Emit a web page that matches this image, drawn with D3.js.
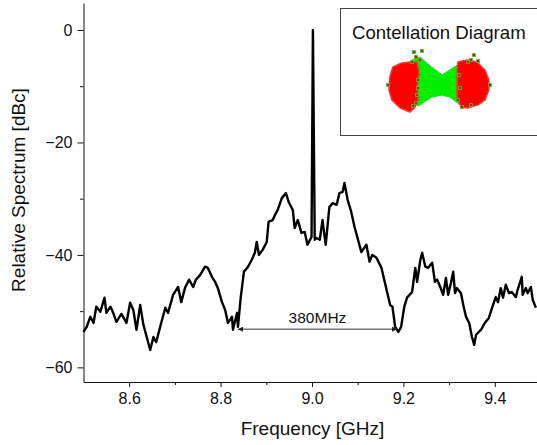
<!DOCTYPE html>
<html>
<head>
<meta charset="utf-8">
<script src="https://cdn.jsdelivr.net/npm/d3@7"></script>
<style>
  body { margin: 0; background: #fff; }
  svg { display: block; font-family: "Liberation Sans", Arial, sans-serif; }
</style>
</head>
<body>
<svg width="537" height="445"></svg>
<script>
// spectrum trace
const freqGHz = [8.500, 8.507, 8.515, 8.522, 8.528, 8.537, 8.546, 8.550, 8.559, 8.565,
  8.572, 8.583, 8.594, 8.602, 8.609, 8.616, 8.624, 8.631, 8.637, 8.646,
  8.653, 8.659, 8.670, 8.679, 8.685, 8.696, 8.707, 8.714, 8.722, 8.731,
  8.740, 8.746, 8.755, 8.766, 8.772, 8.781, 8.788, 8.794, 8.803, 8.810,
  8.816, 8.825, 8.827, 8.836, 8.838, 8.844, 8.851, 8.860, 8.868, 8.875,
  8.879, 8.884, 8.892, 8.901, 8.905, 8.914, 8.919, 8.925, 8.934, 8.943,
  8.949, 8.958, 8.962, 8.969, 8.977, 8.984, 8.990, 8.999, 9.002, 9.006,
  9.010, 9.017, 9.023, 9.030, 9.038, 9.045, 9.054, 9.060, 9.067, 9.071,
  9.078, 9.086, 9.093, 9.099, 9.108, 9.119, 9.126, 9.132, 9.141, 9.152,
  9.158, 9.165, 9.171, 9.176, 9.182, 9.189, 9.195, 9.202, 9.208, 9.219,
  9.226, 9.230, 9.237, 9.241, 9.248, 9.254, 9.263, 9.269, 9.274, 9.283,
  9.287, 9.293, 9.298, 9.304, 9.309, 9.313, 9.317, 9.326, 9.331, 9.337,
  9.344, 9.350, 9.355, 9.359, 9.370, 9.378, 9.387, 9.394, 9.402, 9.407,
  9.413, 9.418, 9.424, 9.431, 9.437, 9.446, 9.450, 9.459, 9.461, 9.468,
  9.472, 9.479, 9.483, 9.490];

const levelDBc = [-53.7, -52.8, -51.0, -52.1, -49.2, -50.1, -47.6, -50.3, -49.2, -50.3,
  -51.9, -50.5, -52.1, -48.5, -49.8, -53.3, -48.9, -52.4, -54.2, -56.9,
  -54.6, -55.5, -52.1, -49.4, -50.3, -47.1, -45.7, -48.4, -45.9, -44.4,
  -45.7, -44.4, -43.6, -42.1, -42.3, -43.9, -44.8, -45.9, -48.4, -49.8,
  -52.1, -51.0, -53.3, -50.3, -52.8, -47.6, -43.0, -42.1, -40.9, -39.6,
  -37.7, -40.0, -39.1, -37.7, -34.1, -33.8, -32.9, -32.0, -29.9, -29.0,
  -30.6, -32.0, -35.2, -33.8, -36.1, -35.9, -38.2, -36.8, 0.0, -37.3,
  -37.0, -37.3, -33.8, -38.2, -31.5, -30.8, -31.1, -29.0, -28.8, -27.2,
  -30.2, -32.4, -35.0, -36.8, -39.5, -38.2, -41.2, -40.0, -40.5, -42.3,
  -44.4, -46.8, -48.9, -49.2, -52.8, -53.7, -52.8, -49.2, -47.6, -46.6,
  -42.3, -44.8, -40.9, -39.6, -42.1, -42.3, -41.4, -44.8, -44.4, -46.2,
  -47.1, -44.1, -47.1, -45.0, -43.0, -46.8, -45.9, -46.8, -48.9, -51.0,
  -52.1, -54.6, -56.0, -54.2, -53.3, -52.1, -51.2, -49.4, -47.5, -48.4,
  -45.9, -47.6, -45.3, -46.8, -46.6, -47.5, -46.2, -43.9, -47.1, -45.9,
  -46.8, -45.7, -48.0, -49.4];

const xTicks = [8.6, 8.8, 9.0, 9.2, 9.4];
const xMinorTicks = [8.7, 8.9, 9.1, 9.3];
const yTicks = [-60, -40, -20, 0];
const yMinorTicks = [-50, -30, -10];

// 380 MHz bandwidth marker
const bandFrom = 8.838, bandTo = 9.186, bandLevel = -53.2, bandLabel = "380MHz";

// constellation inset, outlines in I/Q units
const leftCluster = [[-1.00, 0.70], [-1.30, 0.66], [-1.57, 0.53], [-1.67, 0.20], [-1.70, -0.23],
  [-1.60, -0.57], [-1.33, -0.83], [-1.00, -0.97], [-0.83, -0.80], [-0.73, -0.57],
  [-0.77, -0.13], [-0.70, 0.33], [-0.77, 0.70]];
const rightCluster = [[0.60, 0.70], [0.90, 0.77], [1.23, 0.70], [1.50, 0.43], [1.63, 0.10],
  [1.63, -0.23], [1.50, -0.57], [1.27, -0.73], [0.93, -0.83], [0.70, -0.80],
  [0.57, -0.47], [0.57, 0.00], [0.57, 0.43]];
const bridge = [[-0.93, 0.77], [-0.67, 0.87], [-0.33, 0.57], [0.07, 0.27], [0.43, 0.50],
  [0.73, 0.70], [0.83, 0.27], [0.83, -0.57], [0.73, -0.77], [0.33, -0.47],
  [0.07, -0.40], [-0.27, -0.47], [-0.73, -0.77], [-0.93, -0.57]];
const strayPoints = [[-0.87, 1.03], [-0.60, 1.07], [-0.80, 0.87], [-0.67, 0.77], [-0.93, 0.70],
  [1.13, 0.93], [1.03, 0.77], [1.27, 0.73], [0.93, 0.70], [-0.73, 0.10],
  [-0.73, -0.17], [-0.77, -0.40], [-0.80, -0.67], [-0.90, -0.77], [0.63, 0.27],
  [0.67, -0.17], [0.60, -0.57], [0.73, -0.80], [1.03, -0.73], [-1.73, -0.07], [1.67, -0.07]];

function drawSpectrum(svg) {
    const data = d3.zip(freqGHz, levelDBc);

    const scX = d3.scaleLinear().domain([8.5, 9.5]).range([83.5, 540.5]);
    const scY = d3.scaleLinear().domain([-62.6, 4.8]).range([382, 3]);

    // axes
    const axX = svg.append("g")
        .attr("transform", "translate(0, 382)")
        .call(d3.axisBottom(scX).tickValues(xTicks).tickFormat(d3.format(".1f"))
              .tickSize(5).tickSizeOuter(0).tickPadding(6));
    svg.append("g")
        .attr("transform", "translate(0, 382)")
        .call(d3.axisBottom(scX).tickValues(xMinorTicks).tickFormat("").tickSize(3))
        .select(".domain").remove();

    const axY = svg.append("g")
        .attr("transform", "translate(83.5, 0)")
        .call(d3.axisLeft(scY).tickValues(yTicks)
              .tickSize(6).tickSizeOuter(0).tickPadding(5));
    svg.append("g")
        .attr("transform", "translate(83.5, 0)")
        .call(d3.axisLeft(scY).tickValues(yMinorTicks).tickFormat("").tickSize(3.5))
        .select(".domain").remove();

    svg.selectAll(".tick text")
        .style("font-size", "16px")
        .style("font-family", "'Liberation Sans', Arial, sans-serif")
        .style("fill", "#111");
    svg.selectAll(".domain, .tick line").style("stroke", "#111");

    // trace
    const line = d3.line()
        .x(d => scX(d[0]))
        .y(d => scY(d[1]));

    svg.append("path")
        .attr("d", line(data))
        .style("fill", "none")
        .style("stroke", "#000")
        .style("stroke-width", 2.4)
        .style("stroke-linejoin", "round");

    // bandwidth marker
    svg.append("defs").selectAll("marker")
        .data(["start", "end"])
        .enter()
        .append("marker")
        .attr("id", d => "arr-" + d)
        .attr("viewBox", "0 0 6 6")
        .attr("refX", d => d == "end" ? 6 : 0)
        .attr("refY", 3)
        .attr("markerWidth", 6)
        .attr("markerHeight", 5)
        .attr("markerUnits", "userSpaceOnUse")
        .attr("orient", "auto")
        .append("path")
        .attr("d", d => d == "end" ? "M0,0L6,3L0,6Z" : "M6,0L0,3L6,6Z")
        .style("fill", "#222");

    svg.append("line")
        .attr("x1", scX(bandFrom))
        .attr("x2", scX(bandTo))
        .attr("y1", scY(bandLevel))
        .attr("y2", scY(bandLevel))
        .attr("marker-start", "url(#arr-start)")
        .attr("marker-end", "url(#arr-end)")
        .style("stroke", "#333")
        .style("stroke-width", 1);

    svg.append("text")
        .attr("x", scX((bandFrom + bandTo) / 2))
        .attr("y", scY(bandLevel) - 6)
        .attr("text-anchor", "middle")
        .style("font-size", "15.5px")
        .style("fill", "#111")
        .text(bandLabel);

    // axis titles
    svg.append("text")
        .attr("x", 312.5)
        .attr("y", 435)
        .attr("text-anchor", "middle")
        .style("font-size", "19px")
        .style("fill", "#111")
        .text("Frequency [GHz]");

    svg.append("text")
        .attr("transform", "translate(25, 190) rotate(-90)")
        .attr("text-anchor", "middle")
        .style("font-size", "19px")
        .style("fill", "#111")
        .text("Relative Spectrum [dBc]");
}

function drawInset(svg) {
    const g = svg.append("g");

    g.append("rect")
        .attr("x", 340.5)
        .attr("y", 8.5)
        .attr("width", 210)
        .attr("height", 127)
        .style("fill", "#fff")
        .style("stroke", "#444")
        .style("stroke-width", 1);

    g.append("text")
        .attr("x", 352)
        .attr("y", 38.5)
        .style("font-size", "18.6px")
        .style("fill", "#111")
        .text("Contellation Diagram");

    const scI = d3.scaleLinear().domain([-2, 2]).range([380, 500]);
    const scQ = d3.scaleLinear().domain([-1.2, 1.2]).range([119, 47]);

    const shape = d3.line()
        .x(d => scI(d[0]))
        .y(d => scQ(d[1]))
        .curve(d3.curveLinearClosed);

    g.append("path")
        .attr("d", shape(bridge))
        .style("fill", "#00ee00")
        .style("stroke", "#00ee00")
        .style("stroke-width", 1);

    g.selectAll(".cluster")
        .data([leftCluster, rightCluster])
        .enter()
        .append("path")
        .attr("d", d => shape(d))
        .style("fill", "#ff0000")
        .style("stroke", "#ff3030")
        .style("stroke-width", 1.5);

    g.selectAll(".stray")
        .data(strayPoints)
        .enter()
        .append("rect")
        .attr("x", d => scI(d[0]) - 1.5)
        .attr("y", d => scQ(d[1]) - 1.5)
        .attr("width", 3)
        .attr("height", 3)
        .style("fill", "#ff0000")
        .style("stroke", "#33cc33")
        .style("stroke-width", 0.8);
}

const svg = d3.select("svg");
drawSpectrum(svg);
drawInset(svg);
</script>
</body>
</html>
